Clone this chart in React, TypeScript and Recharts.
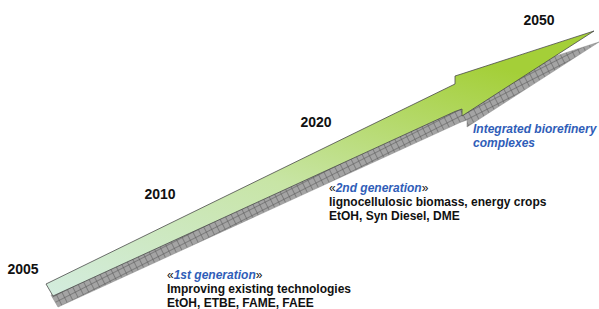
import { ComposedChart, Area, XAxis, YAxis, ReferenceDot } from "recharts"

// arrow outline (x, top edge, bottom edge)
const arrowX = [46, 53, 455, 455, 462, 462, 594]
const arrowTop = [284, 280.6, 84, 76, 73.8, 73.8, 31]
const arrowBottom = [284, 296, 111.5, 111.5, 109, 116, 31]

const years = ["2005", "2010", "2020", "2050"]
const yearX = [23, 160, 316, 539]
const yearY = [274, 199, 127, 25]

const BLUE = "#2f5db8"
const FONT = "Arial, 'Liberation Sans', sans-serif"

type Seg = { t: string; blue?: boolean; italic?: boolean; bold?: boolean }

const notes: Seg[][][] = [
  [
    [{ t: "«" }, { t: "1st generation", blue: true, italic: true, bold: true }, { t: "»" }],
    [{ t: "Improving existing technologies", bold: true }],
    [{ t: "EtOH, ETBE, FAME, FAEE", bold: true }],
  ],
  [
    [{ t: "«" }, { t: "2nd generation", blue: true, italic: true, bold: true }, { t: "»" }],
    [{ t: "lignocellulosic biomass, energy crops", bold: true }],
    [{ t: "EtOH, Syn Diesel, DME", bold: true }],
  ],
  [
    [{ t: "Integrated biorefinery", blue: true, italic: true, bold: true }],
    [{ t: "complexes", blue: true, italic: true, bold: true }],
  ],
]
const noteX = [167, 329, 473]
const noteY = [279, 192, 133]

const data = arrowX.map((x, i) => ({ x, band: [arrowBottom[i], arrowTop[i]] }))

function YearLabel(props: any) {
  const { viewBox, value } = props
  return (
    <text x={viewBox.x} y={viewBox.y} textAnchor="middle" fontFamily={FONT} fontSize={14} fontWeight="bold" fill="#111">
      {value}
    </text>
  )
}

function NoteLabel(props: any) {
  const { viewBox, lines } = props
  return (
    <text x={viewBox.x} y={viewBox.y} fontFamily={FONT} fontSize={12} fill="#111">
      {lines.map((line: Seg[], i: number) =>
        line.map((s, j) => (
          <tspan
            key={i + "-" + j}
            x={j === 0 ? viewBox.x : undefined}
            dy={j === 0 && i > 0 ? 14 : undefined}
            fill={s.blue ? BLUE : "#111"}
            fontStyle={s.italic ? "italic" : "normal"}
            fontWeight={s.bold ? "bold" : "normal"}
          >
            {s.t}
          </tspan>
        ))
      )}
    </text>
  )
}

export default function App() {
  return (
    <div style={{ position: "absolute", left: 0, top: 0, background: "#fff" }}>
      <ComposedChart width={599} height={309} data={data} margin={{ top: 0, right: 0, bottom: 0, left: 0 }}>
        <defs>
          <linearGradient id="arrowFill" x1="0" y1="1" x2="0.6" y2="0">
            <stop offset="0" stopColor="#d3ecdf" />
            <stop offset="0.5" stopColor="#c8e5a6" />
            <stop offset="1" stopColor="#a4cf38" />
          </linearGradient>
          <pattern id="hatch" width="6" height="6" patternUnits="userSpaceOnUse" patternTransform="rotate(-27)">
            <rect width="6" height="6" fill="#a4a4a4" />
            <path d="M0 0 L0 6 M0 0 L6 0" stroke="#555" strokeWidth={1} />
          </pattern>
        </defs>
        <XAxis xAxisId="main" type="number" dataKey="x" domain={[0, 599]} hide allowDataOverflow />
        <YAxis yAxisId="main" type="number" domain={[0, 309]} reversed hide allowDataOverflow />
        <XAxis xAxisId="shadow" type="number" dataKey="x" domain={[-5, 594]} hide allowDataOverflow />
        <YAxis yAxisId="shadow" type="number" domain={[-11, 298]} reversed hide allowDataOverflow />
        <Area
          xAxisId="shadow"
          yAxisId="shadow"
          type="linear"
          dataKey="band"
          fill="url(#hatch)"
          fillOpacity={1}
          stroke="#8a8a8a"
          strokeWidth={0.5}
          dot={false}
          activeDot={false}
          isAnimationActive={false}
        />
        <Area
          xAxisId="main"
          yAxisId="main"
          type="linear"
          dataKey="band"
          fill="url(#arrowFill)"
          fillOpacity={1}
          stroke="#4a4a4a"
          strokeWidth={0.8}
          dot={false}
          activeDot={false}
          isAnimationActive={false}
        />
        {years.map((y, i) => (
          <ReferenceDot
            key={y}
            xAxisId="main"
            yAxisId="main"
            x={yearX[i]}
            y={yearY[i]}
            r={0}
            fill="none"
            stroke="none"
            label={<YearLabel value={y} />}
          />
        ))}
        {notes.map((lines, i) => (
          <ReferenceDot
            key={i}
            xAxisId="main"
            yAxisId="main"
            x={noteX[i]}
            y={noteY[i]}
            r={0}
            fill="none"
            stroke="none"
            label={<NoteLabel lines={lines} />}
          />
        ))}
      </ComposedChart>
    </div>
  )
}
